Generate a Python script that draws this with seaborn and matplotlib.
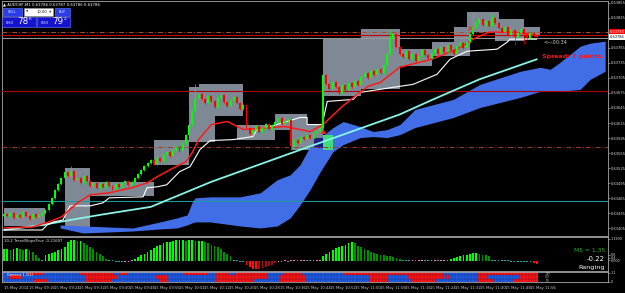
import numpy as np
import matplotlib
matplotlib.use("Agg")
from matplotlib import pyplot as plt
from matplotlib.colors import ListedColormap
from matplotlib.patches import Rectangle
import seaborn as sns

sns.set_style("dark", {"axes.facecolor": "black", "figure.facecolor": "black"})
plt.rcParams['font.family'] = ['DejaVu Sans']

# AUDCHF M1 closes, in points (63786 = 0.63786)
closes = [63434, 63430, 63436, 63426, 63432, 63428, 63438, 63430, 63424, 63434, 63428, 63432, 63436,
          63442, 63454, 63466, 63482, 63494, 63506, 63518,
          63510, 63520, 63502, 63506, 63496, 63510, 63500, 63490,
          63496, 63486, 63494, 63488, 63498, 63490, 63484, 63494, 63488, 63496, 63500, 63492, 63498,
          63506, 63514, 63522, 63530, 63536, 63542, 63534,
          63546, 63540, 63552, 63558, 63550, 63562, 63568, 63560,
          63576, 63592, 63612, 63638, 63662, 63672,
          63662, 63654, 63668, 63658, 63646, 63664, 63670, 63656, 63648, 63660, 63666, 63654, 63642, 63650,
          63606, 63594,
          63602, 63610, 63598, 63606, 63614, 63604, 63612,
          63618, 63624, 63614, 63620, 63622,
          63570,
          63582, 63576, 63588, 63584, 63592, 63586, 63596, 63600,
          63606,
          63710,
          63692, 63682, 63696, 63686, 63674, 63690, 63680, 63694, 63686,
          63698, 63690, 63706, 63714, 63704, 63718, 63710, 63722,
          63714, 63730, 63752, 63782, 63792, 63766, 63752,
          63746, 63758, 63742, 63752, 63738, 63748, 63760, 63750, 63744, 63754,
          63762, 63752, 63766, 63756, 63770, 63760, 63752, 63768, 63774, 63764, 63776,
          63792, 63806, 63814, 63822,
          63810, 63818, 63808, 63824, 63814, 63804,
          63796, 63806, 63790, 63800, 63786, 63794, 63802, 63792,
          63784, 63794, 63788, 63786]
first_open = 63430
spike_high = {21: 63530, 60: 63692, 100: 63714, 121: 63800, 147: 63832, 153: 63832}
spike_low = {90: 63562, 160: 63770, 163: 63772}

# grey range boxes: candle start, candle end, top, bottom
box_start = [0, 19, 27, 47, 58, 61, 73, 85, 90, 100, 112, 124, 134, 141, 145, 154, 163]
box_end = [13, 27, 47, 58, 66, 75, 85, 95, 100, 112, 124, 134, 146, 146, 155, 163, 168]
box_top = [63446, 63526, 63498, 63582, 63686, 63692, 63612, 63632, 63612, 63782, 63802, 63762, 63776,
           63806, 63836, 63822, 63806]
box_bot = [63410, 63406, 63470, 63532, 63578, 63628, 63582, 63602, 63562, 63668, 63682, 63728, 63748,
           63776, 63796, 63778, 63788]
mark_start = [97, 100]
mark_end = [100, 103]
mark_top = [63586, 63592]
mark_bot = [63566, 63562]
mark_color = ['#1c1c80', '#3fdc7a']

# moving averages
red_idx = [0, 9, 14, 18, 23, 27, 33, 40, 45, 48, 52, 57, 59, 61, 65, 70, 75, 88, 96, 100, 106, 114, 118,
           124, 134, 142, 147, 152, 160, 167]
red_val = [63406, 63408, 63418, 63428, 63456, 63472, 63476, 63486, 63496, 63508, 63522, 63538, 63556,
           63582, 63612, 63618, 63602, 63608, 63598, 63612, 63648, 63688, 63696, 63726, 63742, 63762,
           63782, 63796, 63796, 63790]
white_idx = [0, 12, 13.5, 15.5, 18.5, 20, 20.7, 27, 31, 33, 43.6, 44.8, 48, 51, 55, 58.3, 61.4, 64.6,
             71.8, 78, 79.3, 83.4, 92.8, 95, 95, 99.7, 101.3, 109.4, 111.6, 121.9, 128.2, 135.7, 139.8,
             145.1, 154.5, 157.7, 158.6, 167]
white_val = [63402, 63402, 63412, 63418, 63422, 63442, 63450, 63450, 63456, 63466, 63468, 63486, 63488,
             63492, 63518, 63528, 63562, 63580, 63582, 63588, 63602, 63608, 63626, 63626, 63612, 63612,
             63658, 63662, 63676, 63686, 63692, 63712, 63742, 63758, 63762, 63776, 63782, 63782]
cyan_idx = [0, 12, 30, 46, 65, 93, 124, 134.5, 149, 167]
cyan_val = [63402, 63412, 63432, 63448, 63498, 63562, 63632, 63662, 63702, 63742]

# ichimoku cloud
cloud_idx = [17.6, 24.8, 40.4, 48.9, 54.2, 57.4, 58.9, 59.9, 64.6, 74, 80.3, 85.6, 89.7, 92.8, 95.9,
             99.1, 103.1, 106.3, 111.6, 115.7, 120.1, 124.1, 128.8, 140.8, 149.2, 161.8, 168, 171.2,
             174.3, 180.6, 183.7, 188.4]
cloud_top = [63412, 63410, 63406, 63418, 63426, 63432, 63456, 63466, 63468, 63468, 63476, 63502, 63512,
             63532, 63568, 63586, 63606, 63618, 63608, 63598, 63602, 63612, 63642, 63662, 63692, 63718,
             63726, 63722, 63736, 63768, 63774, 63778]
cloud_bot = [63406, 63396, 63400, 63404, 63406, 63412, 63416, 63418, 63418, 63410, 63406, 63410, 63426,
             63452, 63482, 63518, 63558, 63572, 63586, 63588, 63586, 63592, 63606, 63626, 63646, 63666,
             63678, 63678, 63678, 63682, 63702, 63718]

# TrendSlope histogram
hist_vals = [1.0, 1.05, 0.95, 1.0, 1.1, 1.0, 0.95, 1.0, 0.9,
             0.8, 0.5, 0.3, 0.1,
             0.5, 0.6, 0.7, 0.8, 0.9, 1.0, 1.2,
             1.6, 1.8, 1.8, 1.7, 1.7,
             1.5, 1.4, 1.2, 1.0, 0.8, 0.6,
             0.4, 0.2,
             0.08, 0.05, -0.05, -0.1, -0.12, -0.08, -0.05, 0.05,
             0.2, 0.35, 0.5,
             0.6, 0.8, 0.9, 1.1,
             1.3, 1.4, 1.5, 1.6, 1.6, 1.7, 1.8, 1.8, 1.8, 1.7, 1.8, 1.8, 1.7, 1.7,
             1.7, 1.6, 1.5, 1.4, 1.3, 1.2,
             1.0, 0.8, 0.6, 0.4,
             0.15, 0.05, -0.05, -0.1,
             -0.3, -0.5, -0.65, -0.7, -0.7, -0.6, -0.5, -0.4, -0.3, -0.2,
             -0.1, -0.05, 0.05, -0.05, 0.05, 0.08, 0.05, 0.05, 0.08, 0.06, 0.05, 0.05, 0.08, 0.15,
             0.4, 0.6, 0.8, 0.9, 1.1, 1.2, 1.3, 1.4, 1.5, 1.6, 1.5,
             1.3, 1.2, 1.0, 0.9, 0.8, 0.7, 0.6,
             0.55, 0.5, 0.45, 0.4, 0.35, 0.3, 0.2, 0.15, 0.1,
             0.08, 0.1, 0.06, 0.08, 0.1, 0.08, 0.06, 0.1, 0.12, 0.08, 0.1, 0.12, 0.15, 0.2, 0.3, 0.35,
             0.4, 0.5, 0.55, 0.6, 0.65, 0.65, 0.6, 0.55, 0.5, 0.4,
             0.15, 0.1, 0.08, 0.06, 0.05, 0.04,
             -0.02, -0.05, -0.08, -0.1, -0.12, -0.15, -0.18, -0.2, -0.22]

# Genesis matrix: red runs per row (candle start, candle end)
row1_red = [(8, 12), (24, 34), (37, 38), (57, 63), (67, 70), (73, 82), (88, 93), (107, 137), (149, 167)]
row2_red = [(2, 5), (26, 35), (48, 51), (67, 82), (87, 94), (115, 120), (127, 137), (139, 139),
            (149, 151), (162, 167)]
row3_red = [(10, 13), (26, 33), (49, 51), (67, 78), (87, 94), (115, 120), (128, 135), (149, 153),
            (160, 167)]

time_labels = ["15 May 2014", "15 May 09:16", "15 May 09:24", "15 May 09:32", "15 May 09:40",
               "15 May 09:48", "15 May 09:56", "15 May 10:04", "15 May 10:12", "15 May 10:20",
               "15 May 10:28", "15 May 10:36", "15 May 10:44", "15 May 10:52", "15 May 11:00",
               "15 May 11:08", "15 May 11:16", "15 May 11:24", "15 May 11:32", "15 May 11:40",
               "15 May 11:48", "15 May 11:56"]

W, H = 625, 293
fig = plt.figure(figsize=(6.25, 2.93), dpi=100, facecolor='black')


def fx(x):
    return x / W


def fy(y):
    return 1 - y / H


ax = fig.add_axes([fx(2), fy(236), fx(608) - fx(2), fy(1) - fy(236)])
axh = fig.add_axes([fx(2), fy(271), fx(608) - fx(2), fy(237) - fy(271)])
axg = fig.add_axes([fx(2), fy(282), fx(608) - fx(2), fy(272) - fy(282)])
xlim = (-0.63, 189.3)

# ---- main price panel
n = len(closes)
idx = np.arange(n)
c = np.array(closes, dtype=float)
o = np.array([first_open] + closes[:-1], dtype=float)
hi = np.maximum(o, c) + 2
lo = np.minimum(o, c) - 2
for k, v in spike_high.items():
    hi[k] = v
for k, v in spike_low.items():
    lo[k] = v
col = np.where(c >= o, '#00ff00', '#ff0000')

ax.bar(box_start, np.array(box_top) - np.array(box_bot), bottom=box_bot,
       width=np.array(box_end) - np.array(box_start), align='edge', color='#7f8996', lw=0, zorder=1)
ax.bar(mark_start, np.array(mark_top) - np.array(mark_bot), bottom=mark_bot,
       width=np.array(mark_end) - np.array(mark_start), align='edge', color=mark_color, lw=0, zorder=3)
ax.fill_between(cloud_idx, cloud_top, cloud_bot, color='#416ee6', lw=0, zorder=2)

ax.axhline(63796, color='#b04a28', lw=0.7, ls=(0, (5, 2, 1, 2)), zorder=3)
ax.axhline(63791, color='#c80000', lw=0.8, zorder=3)
ax.axhline(63785, color='#9a9a9a', lw=0.7, zorder=3)
ax.axhline(63678, color='#b00000', lw=0.8, zorder=3)
ax.axhline(63568, color='#a03a22', lw=0.7, ls=(0, (5, 2, 1, 2)), zorder=3)
ax.axhline(63460, color='#1a9a9a', lw=0.8, zorder=3)

sns.lineplot(x=cyan_idx, y=cyan_val, ax=ax, color='#86f5e6', lw=1.3, estimator=None, sort=False, zorder=4)
sns.lineplot(x=white_idx, y=white_val, ax=ax, color='white', lw=0.8, estimator=None, sort=False, zorder=4)
sns.lineplot(x=red_idx, y=red_val, ax=ax, color='#ff1a1a', lw=1.1, estimator=None, sort=False, zorder=5)

ax.vlines(idx, lo, hi, colors=col, lw=0.5, zorder=6)
ax.bar(idx, np.maximum(np.abs(c - o), 1.5), bottom=np.minimum(o, c), width=0.62, color=col, lw=0, zorder=7)
ax.scatter([100], [63600], marker='^', s=14, color='#ff2020', zorder=8, lw=0)
ax.scatter([146], [63804], marker='x', s=8, color='#ff3030', zorder=8, lw=0.8)

ax.set_xlim(xlim)
ax.set_ylim(63390, 63858)
ticks = np.arange(63855, 63400, -30)
ax.yaxis.tick_right()
ax.set_yticks(ticks)
ax.set_yticklabels([f"0.{t}" for t in ticks])
ax.set_xticks([])
ax.tick_params(axis='y', labelsize=2.6, colors='#d8d8d8', length=1.5, width=0.4, pad=0.8)
ax.set_xlabel('')
ax.set_ylabel('')
ytr = ax.get_yaxis_transform()
ax.text(1.003, 63796, "0.63793", transform=ytr, fontsize=2.6, color='white', va='center', ha='left',
        bbox=dict(facecolor='#ff0000', edgecolor='none', pad=0.5), zorder=10, clip_on=False)
ax.text(1.003, 63786, "0.63786", transform=ytr, fontsize=2.6, color='black', va='center', ha='left',
        bbox=dict(facecolor='white', edgecolor='none', pad=0.5), zorder=10, clip_on=False)
ax.text(169, 63776, "<---00:34", fontsize=3.6, color='#d8c8b8', va='center', zorder=9)
ax.text(168.5, 63748, "Spread: 7 points.", fontsize=4.6, color='#ff1010', fontweight='bold', va='center', zorder=9)

# ---- TrendSlope histogram
hv = np.array(hist_vals)
prev = np.concatenate([[hv[0]], hv[:-1]])
hcol = []
for v, p in zip(hv, prev):
    if abs(v) < 0.2:
        hcol.append('#ff78c8' if v >= p else '#1fa8a8')
    elif v > 0:
        hcol.append('#00ff00' if v >= p else '#009000')
    else:
        hcol.append('#ff1010' if v < p else '#a01010')
axh.bar(idx, np.where(np.abs(hv) < 0.2, np.sign(hv + 1e-9) * 0.12, hv), width=0.55, color=hcol, lw=0)
axh.set_xlim(xlim)
axh.set_ylim(-0.85, 2.05)
axh.set_xticks([])
axh.yaxis.tick_right()
axh.set_yticks([1.9, 0.55, 0.3, 0.05])
axh.set_yticklabels(["1.1900", "0.6", "0.4", "0.000"])
axh.tick_params(axis='y', labelsize=2.4, colors='#d8d8d8', length=1.2, width=0.4, pad=0.8)
axh.text(0.004, 0.93, "10,2 TrendSlopeTrue -0.21697", transform=axh.transAxes, fontsize=2.8,
         color='#e0e0e0', va='top')
fig.text(fx(605), fy(251), "M5 = 1.35", fontsize=4.3, color='#2fae2f', ha='right', va='center')
fig.text(fx(605), fy(259), "-0.22", fontsize=5.0, color='white', ha='right', va='center')
fig.text(fx(605), fy(267), "Ranging", fontsize=4.6, color='white', ha='right', va='center')

# ---- Genesis heatmap
grid = np.zeros((3, n))
for r, runs in enumerate([row1_red, row2_red, row3_red]):
    for a, b in runs:
        grid[r, a:b + 1] = 1
sns.heatmap(grid, ax=axg, cmap=ListedColormap(['#1e5ae6', '#ff1212']), cbar=False, linewidths=0,
            xticklabels=False, yticklabels=False, vmin=0, vmax=1)
axg.vlines(np.arange(1, n), 0, 3, colors='#101830', lw=0.3, alpha=0.6)
axg.hlines([1, 2], 0, n, colors='#101830', lw=0.3, alpha=0.6)
axg.set_xlim(xlim[0] + 0.5, xlim[1] + 0.5)
axg.set_facecolor('black')
tick_pos = np.arange(len(time_labels)) * 7.85 + 0.5
axg.set_xticks(tick_pos)
axg.set_xticklabels(time_labels, rotation=0, ha='left')
axg.tick_params(axis='x', labelsize=2.7, colors='#d0d0d0', length=1.5, width=0.4, pad=1.5)
axg.yaxis.tick_right()
axg.set_yticks([0.3, 2.9])
axg.set_yticklabels(["1.1", "0"])
axg.tick_params(axis='y', labelsize=2.4, colors='#d8d8d8', length=1.2, width=0.4, pad=0.8)
axg.text(1.5, 0.9, "Genesis 1.1(1)", fontsize=2.6, color='white', va='center')
for r, name in enumerate(["TVI", "CCI", "T3"]):
    axg.text(170, r + 0.6, name, fontsize=2.2, color='#d0d0d0', va='center')

for a in (ax, axh, axg):
    for s in a.spines.values():
        s.set_visible(True)
        s.set_color('#a8a8a8')
        s.set_linewidth(0.6)

# ---- header and one-click trading panel
fig.text(fx(3), fy(5), "\u25b2 AUDCHF,M1 0.63786 0.63787 0.63786 0.63786", fontsize=2.8, color='white',
         va='center')


def button(x0, y0, x1, y1, face, edge='#6f7cff'):
    fig.add_artist(Rectangle((fx(x0), fy(y1)), fx(x1) - fx(x0), fy(y0) - fy(y1), transform=fig.transFigure,
                             facecolor=face, edgecolor=edge, lw=0.4, zorder=20))


button(3, 8, 22, 16, '#2a3ee8')
button(24, 8, 53, 16, 'white', '#a0a0a0')
button(55, 8, 70, 16, '#2a3ee8')
button(2, 17, 36, 27, '#1414d0')
button(37, 17, 70, 27, '#1414d0')
fig.text(fx(12.5), fy(12), "SELL", fontsize=2.5, color='white', ha='center', va='center', zorder=21)
fig.text(fx(62.5), fy(12), "BUY", fontsize=2.5, color='white', ha='center', va='center', zorder=21)
fig.text(fx(26), fy(12), "\u25bc", fontsize=2.2, color='#404040', ha='left', va='center', zorder=21)
fig.text(fx(47), fy(12), "10.00", fontsize=2.7, color='black', ha='right', va='center', zorder=21)
fig.text(fx(51), fy(12), "\u25b2", fontsize=2.2, color='#404040', ha='right', va='center', zorder=21)
fig.text(fx(6), fy(23), "0.63", fontsize=2.5, color='white', ha='left', va='center', zorder=21)
fig.text(fx(17), fy(22), "78", fontsize=6.3, color='white', ha='left', va='center', zorder=21)
fig.text(fx(29), fy(19.5), "6", fontsize=3.2, color='white', ha='left', va='center', zorder=21)
fig.text(fx(41), fy(23), "0.63", fontsize=2.5, color='white', ha='left', va='center', zorder=21)
fig.text(fx(52), fy(22), "79", fontsize=6.3, color='white', ha='left', va='center', zorder=21)
fig.text(fx(64), fy(19.5), "2", fontsize=3.2, color='white', ha='left', va='center', zorder=21)

fig.savefig("out.png", dpi=100, facecolor='black')
